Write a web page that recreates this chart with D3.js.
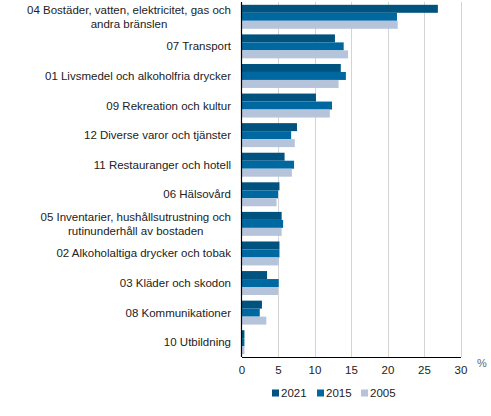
<!DOCTYPE html>
<html>
<head>
<meta charset="utf-8">
<script src="https://cdn.jsdelivr.net/npm/d3@7"></script>
<style>
  body { margin: 0; background: #fff; }
  text { font-family: "Liberation Sans", Arial, sans-serif; fill: #222; }
</style>
</head>
<body>
<div id="chart"></div>
<script>
(function() {

    var w = 491;
    var h = 416;

    // categories, top to bottom (\n = line break)
    var categories = [
        "04 Bostäder, vatten, elektricitet, gas och\nandra bränslen",
        "07 Transport",
        "01 Livsmedel och alkoholfria drycker",
        "09 Rekreation och kultur",
        "12 Diverse varor och tjänster",
        "11 Restauranger och hotell",
        "06 Hälsovård",
        "05 Inventarier, hushållsutrustning och\nrutinunderhåll av bostaden",
        "02 Alkoholaltiga drycker och tobak",
        "03 Kläder och skodon",
        "08 Kommunikationer",
        "10 Utbildning"
    ];

    var years = ["2021", "2015", "2005"];
    var values2021 = [26.9, 12.8, 13.6, 10.2, 7.6, 5.9, 5.2, 5.5, 5.2, 3.5, 2.8, 0.4];
    var values2015 = [21.3, 14.0, 14.3, 12.4, 6.8, 7.2, 5.0, 5.7, 5.2, 5.1, 2.5, 0.4];
    var values2005 = [21.4, 14.6, 13.3, 12.1, 7.3, 6.9, 4.8, 5.5, 5.1, 5.0, 3.4, 0.4];
    var xTicks = [0, 5, 10, 15, 20, 25, 30];

    var colors = ["#00527f", "#0068a0", "#b5c4da"];

    var margin = { left: 241.5, right: 30.5, top: 2, bottom: 59 };

    var svg = d3.select("#chart")
        .append("svg")
        .attr("width", w)
        .attr("height", h);

    var x = d3.scaleLinear()
        .domain([0, 30])
        .range([margin.left, w - margin.right]);

    var y = d3.scaleBand()
        .domain(categories)
        .range([margin.top, h - margin.bottom])
        .paddingInner(0.19)
        .paddingOuter(0.095);

    var ySub = d3.scaleBand()
        .domain(years)
        .range([0, y.bandwidth()]);

    // gridlines
    svg.append("g")
        .selectAll("line")
        .data(xTicks.slice(1))
        .enter()
        .append("line")
        .attr("x1", function(d) { return Math.round(x(d)) + 0.5; })
        .attr("x2", function(d) { return Math.round(x(d)) + 0.5; })
        .attr("y1", margin.top)
        .attr("y2", h - margin.bottom)
        .attr("stroke", "#d4d4d4")
        .attr("stroke-width", 1);

    var series = [values2021, values2015, values2005];

    var groups = svg.append("g")
        .selectAll("g")
        .data(categories)
        .enter()
        .append("g")
        .attr("transform", function(d) { return "translate(0," + y(d) + ")"; });

    groups.selectAll("rect")
        .data(function(d, i) {
            return years.map(function(yr, k) {
                return { year: yr, value: series[k][i], color: colors[k] };
            });
        })
        .enter()
        .append("rect")
        .attr("x", x(0))
        .attr("y", function(d) { return ySub(d.year); })
        .attr("height", ySub.bandwidth())
        .attr("width", function(d) { return x(d.value) - x(0); })
        .attr("fill", function(d) { return d.color; });

    // category labels
    svg.append("g")
        .selectAll("text")
        .data(categories)
        .enter()
        .append("text")
        .attr("font-size", 11.5)
        .attr("text-anchor", "middle")
        .each(function(d) {
            var lines = d.split("\n");
            var el = d3.select(this);
            var tmp = svg.append("text").attr("font-size", 11.5).attr("font-family", "Liberation Sans, Arial, sans-serif");
            var maxW = 0;
            lines.forEach(function(l) {
                tmp.text(l);
                maxW = Math.max(maxW, tmp.node().getComputedTextLength());
            });
            tmp.remove();
            var cx = 231 - maxW / 2;
            var cy = y(d) + y.bandwidth() / 2;
            var lh = 13.5;
            var top = cy - (lines.length - 1) * lh / 2;
            lines.forEach(function(l, i) {
                el.append("tspan")
                    .attr("x", cx)
                    .attr("y", top + i * lh)
                    .attr("dy", "0.35em")
                    .text(l);
            });
        });

    // x axis
    var xAxis = svg.append("g")
        .attr("transform", "translate(0," + (h - margin.bottom) + ")")
        .call(d3.axisBottom(x).tickValues(xTicks).tickSize(0).tickPadding(9));
    xAxis.select(".domain").attr("stroke", "#000").attr("stroke-width", 1.2);
    xAxis.selectAll("text").attr("font-size", 11.5).attr("fill", "#222")
        .attr("font-family", "Liberation Sans, Arial, sans-serif");

    // left axis line
    svg.append("line")
        .attr("x1", x(0))
        .attr("x2", x(0))
        .attr("y1", margin.top)
        .attr("y2", h - margin.bottom)
        .attr("stroke", "#000")
        .attr("stroke-width", 1.2);

    svg.append("text")
        .attr("x", 482)
        .attr("y", 367)
        .attr("text-anchor", "middle")
        .attr("font-size", 11)
        .style("fill", "#666")
        .text("%");

    // legend
    var legendX = [272, 317, 361];
    var legend = svg.append("g")
        .selectAll("g")
        .data(years)
        .enter()
        .append("g")
        .attr("transform", function(d, i) { return "translate(" + legendX[i] + ",393)"; });

    legend.append("rect")
        .attr("x", 0)
        .attr("y", -3.5)
        .attr("width", 7)
        .attr("height", 7)
        .attr("fill", function(d, i) { return colors[i]; });

    legend.append("text")
        .attr("x", 9)
        .attr("y", 0)
        .attr("dy", "0.35em")
        .attr("font-size", 11.5)
        .text(function(d) { return d; });

})();
</script>
</body>
</html>
